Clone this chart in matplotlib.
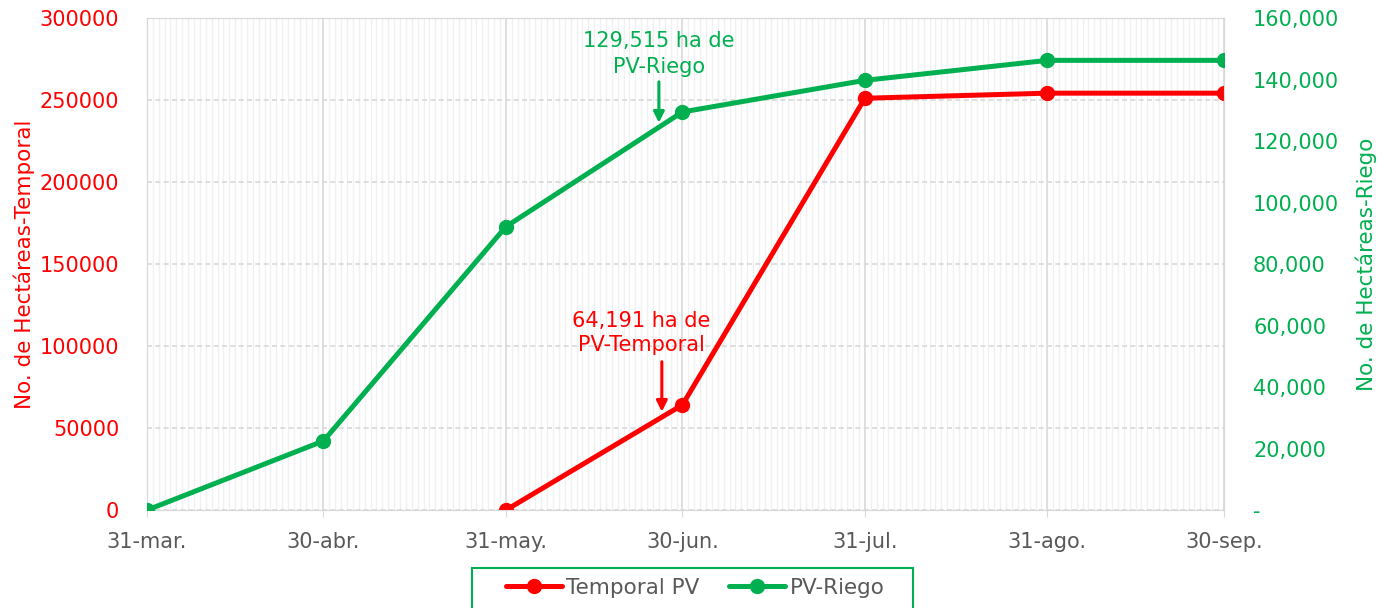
import numpy as np
import pandas as pd
import matplotlib
matplotlib.use('Agg')
import matplotlib.pyplot as plt
import matplotlib.dates as mdates
from matplotlib.patches import Rectangle
from matplotlib.ticker import FuncFormatter, MultipleLocator

plt.rcParams['font.family'] = ['DejaVu Sans']

# data
fechas = pd.to_datetime(['2023-03-31', '2023-04-30', '2023-05-31', '2023-06-30',
                         '2023-07-31', '2023-08-31', '2023-09-30'])
etiquetas = ['31-mar.', '30-abr.', '31-may.', '30-jun.', '31-jul.', '31-ago.', '30-sep.']
temporal_fechas = fechas[2:]
temporal_pv = [0, 64191, 251200, 254300, 254300]
riego_pv = [0, 22500, 92200, 129515, 139800, 146300, 146300]

rojo = '#ff0000'
verde = '#00b050'
gris = '#595959'

fig = plt.figure(figsize=(13.86, 6.08), dpi=100)
ax = fig.add_axes([0.106, 0.161, 0.777, 0.809])
ax2 = ax.twinx()

ax.set_xlim(fechas[0], fechas[-1])
ax.set_ylim(0, 300000)
ax2.set_ylim(0, 160000)

ax.set_xticks(fechas)
ax.set_xticklabels(etiquetas, color=gris, fontsize=15)
ax.xaxis.set_minor_locator(mdates.DayLocator())
ax.grid(which='minor', axis='x', color='#f0f0f0', lw=1)
ax.grid(which='major', axis='x', color='#d9d9d9', lw=1.2)
ax.yaxis.set_major_locator(MultipleLocator(50000))
ax.grid(which='major', axis='y', color='#d9d9d9', lw=1.2, ls=(0, (3, 2)))
ax.set_axisbelow(True)
ax.tick_params(axis='x', which='minor', length=0)
ax.tick_params(axis='x', which='major', length=5, color='#d9d9d9', pad=11)
ax.tick_params(axis='y', length=0, labelcolor=rojo, labelsize=15, pad=20)
ax2.tick_params(axis='y', length=0, labelcolor=verde, labelsize=15, pad=21)
ax2.yaxis.set_major_locator(MultipleLocator(20000))
ax2.yaxis.set_major_formatter(FuncFormatter(lambda v, p: '-' if v == 0 else f'{v:,.0f}'))
for a in (ax, ax2):
    for s in a.spines.values():
        s.set_color('#d9d9d9')

ax.set_ylabel('No. de Hectáreas-Temporal', color=rojo, fontsize=15.5, labelpad=3)
ax2.set_ylabel('No. de Hectáreas-Riego', color=verde, fontsize=15.5, labelpad=12)

l1, = ax.plot(temporal_fechas, temporal_pv, color=rojo, lw=3.6, marker='o', ms=10,
              solid_capstyle='round', label='Temporal PV', zorder=5)
l2, = ax2.plot(fechas, riego_pv, color=verde, lw=3.6, marker='o', ms=10,
               solid_capstyle='round', label='PV-Riego', zorder=5)

# annotations
ax.text(pd.Timestamp('2023-06-23'), 108000, '64,191 ha de\nPV-Temporal', ha='center',
        va='center', color=rojo, fontsize=15, linespacing=1.3)
ax.annotate('', xy=(pd.Timestamp('2023-06-26 12:00'), 60000),
            xytext=(pd.Timestamp('2023-06-26 12:00'), 90500),
            arrowprops=dict(arrowstyle='-|>', color=rojo, lw=2.2, mutation_scale=16,
                            shrinkA=0, shrinkB=0))
ax2.text(pd.Timestamp('2023-06-26'), 148300, '129,515 ha de\nPV-Riego', ha='center',
         va='center', color=verde, fontsize=15, linespacing=1.35)
ax2.annotate('', xy=(pd.Timestamp('2023-06-26'), 126000),
             xytext=(pd.Timestamp('2023-06-26'), 139300),
             arrowprops=dict(arrowstyle='-|>', color=verde, lw=2.2, mutation_scale=16,
                             shrinkA=0, shrinkB=0))

leg = fig.legend(handles=[l1, l2], loc='center', bbox_to_anchor=(0.5015, 1 - 588 / 608),
                 ncol=2, fontsize=15.5, frameon=False, handlelength=2.6,
                 handletextpad=0.2, columnspacing=1.4)
for t in leg.get_texts():
    t.set_color(gris)
fig.patches.append(Rectangle((472 / 1386, -0.02), 441 / 1386, 0.02 + 40 / 608,
                             transform=fig.transFigure, fill=False, edgecolor=verde, lw=1.5))

fig.savefig('out.png', dpi=100)
